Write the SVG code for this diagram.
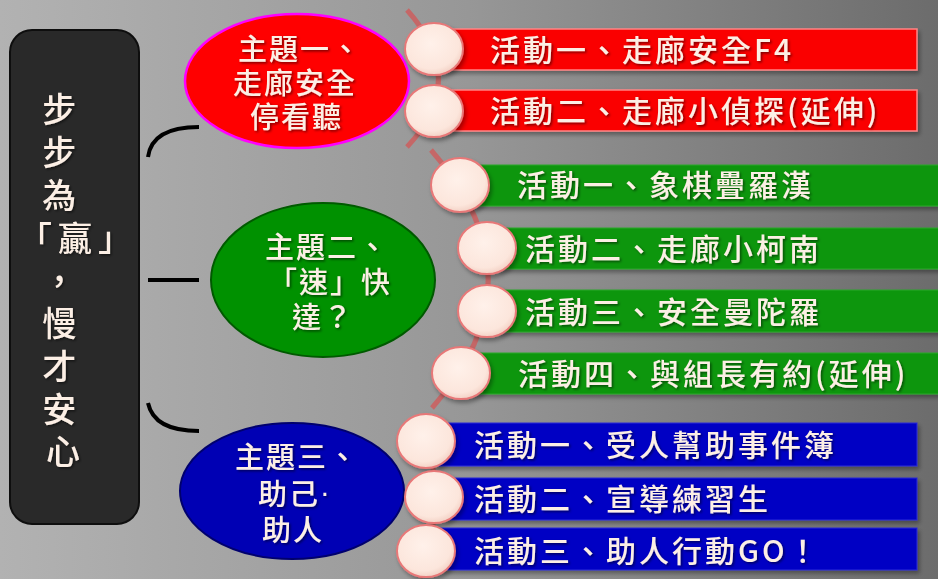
<svg xmlns="http://www.w3.org/2000/svg" width="938" height="579" viewBox="0 0 938 579">
<defs>
<linearGradient id="bg" x1="0" y1="0" x2="1" y2="0">
<stop offset="0" stop-color="#b2b2b2"/>
<stop offset="0.5" stop-color="#979797"/>
<stop offset="1" stop-color="#6c6c6c"/>
</linearGradient>
<radialGradient id="bead" cx="0.45" cy="0.4" r="0.6">
<stop offset="0" stop-color="#fff1ea"/>
<stop offset="0.8" stop-color="#fce6dc"/>
<stop offset="1" stop-color="#f3d2c6"/>
</radialGradient>
<filter id="sh" x="-10%" y="-20%" width="130%" height="150%">
<feDropShadow dx="2" dy="3" stdDeviation="2" flood-color="#000" flood-opacity="0.35"/>
</filter>
<filter id="tsh" x="-5%" y="-20%" width="110%" height="150%">
<feDropShadow dx="1.5" dy="1.5" stdDeviation="0.8" flood-color="#000" flood-opacity="0.5"/>
</filter>
<style>
.t{font-family:"Noto Sans CJK TC","Noto Sans CJK SC",sans-serif;font-weight:500;fill:#fcefe5;filter:url(#tsh);dominant-baseline:central}
.bar{font-size:30px;letter-spacing:3px}
.ell{font-size:29px;letter-spacing:2px}
.side{font-size:34px}
.bead{fill:url(#bead);stroke:#e87878;stroke-width:2;filter:url(#sh)}
.red{fill:#fa0000;stroke:#ff8585;stroke-width:1.5;filter:url(#sh)}
.green{fill:#0a960a;stroke:#2aa82a;stroke-width:1;filter:url(#sh)}
.blue{fill:#0000c4;stroke:#2a2ad8;stroke-width:1;filter:url(#sh)}
.spine{fill:none;stroke:#cf5a5a;stroke-width:5;stroke-opacity:0.8}
.link{fill:none;stroke:#000;stroke-width:4}
</style>
</defs>
<rect width="938" height="579" fill="url(#bg)"/>

<g id="connectors">
<path class="link" d="M148,157 Q152,127 199,127"/>
<path class="link" d="M148,280 L199,280"/>
<path class="link" d="M148,403 Q154,431 199,431"/>
<path class="spine" d="M407,10 Q470,80 407,147"/>
<path class="spine" d="M431,150 Q545,280 432,408"/>
<path class="spine" d="M420,415 Q450,495 420,578"/>
</g>

<g id="title">
<rect x="10" y="30" width="129" height="494" rx="22" fill="#292929" stroke="#0e0e0e" stroke-width="2"/>
<text class="t side" text-anchor="middle">
<tspan x="63" y="107">步</tspan>
<tspan x="63" y="150">步</tspan>
<tspan x="63" y="193">為</tspan>
<tspan x="63" y="279">，</tspan>
<tspan x="63" y="321">慢</tspan>
<tspan x="63" y="364">才</tspan>
<tspan x="63" y="407">安</tspan>
<tspan x="63" y="449">心</tspan>
</text>
<text class="t side" x="18" y="236" letter-spacing="6">「贏」</text>
</g>

<g id="theme1">
<ellipse cx="297" cy="81" rx="112" ry="67" fill="#ff0000" stroke="#ff00ff" stroke-width="2.5"/>
<text class="t ell">
<tspan x="238" y="47">主題一、</tspan>
<tspan x="233" y="81">走廊安全</tspan>
<tspan x="250" y="115">停看聽</tspan>
</text>
</g>

<g id="theme2">
<ellipse cx="323" cy="280" rx="112" ry="77" fill="#009100" stroke="#005a00" stroke-width="2"/>
<text class="t ell">
<tspan x="265" y="245">主題二、</tspan>
<tspan x="268" y="280">「速」快</tspan>
<tspan x="292" y="315">達？</tspan>
</text>
</g>

<g id="theme3">
<ellipse cx="292" cy="491" rx="112" ry="68" fill="#0000b4" stroke="#00006e" stroke-width="2"/>
<text class="t ell">
<tspan x="235" y="455">主題三、</tspan>
<tspan x="258" y="492">助己<tspan font-family="Liberation Sans, sans-serif">·</tspan></tspan>
<tspan x="262" y="528">助人</tspan>
</text>
</g>

<g id="r1">
<rect class="red" x="440" y="29" width="477" height="41"/>
<ellipse class="bead" cx="434" cy="49" rx="29" ry="26"/>
<text class="t bar" x="490" y="48">活動一、走廊安全F4</text>
</g>
<g id="r2">
<rect class="red" x="440" y="90" width="477" height="41"/>
<ellipse class="bead" cx="434" cy="111" rx="29" ry="26"/>
<text class="t bar" x="490" y="109">活動二、走廊小偵探(延伸)</text>
</g>

<g id="g1">
<rect class="green" x="470" y="165" width="470" height="41"/>
<ellipse class="bead" cx="460" cy="185" rx="29" ry="27"/>
<text class="t bar" x="517" y="183">活動一、象棋疊羅漢</text>
</g>
<g id="g2">
<rect class="green" x="497" y="228" width="443" height="41"/>
<ellipse class="bead" cx="487" cy="248" rx="29" ry="26"/>
<text class="t bar" x="525" y="247">活動二、走廊小柯南</text>
</g>
<g id="g3">
<rect class="green" x="497" y="290" width="443" height="42"/>
<ellipse class="bead" cx="487" cy="311" rx="29" ry="26"/>
<text class="t bar" x="525" y="310">活動三、安全曼陀羅</text>
</g>
<g id="g4">
<rect class="green" x="470" y="353" width="470" height="41"/>
<ellipse class="bead" cx="461" cy="373" rx="29" ry="26"/>
<text class="t bar" x="518" y="372">活動四、與組長有約(延伸)</text>
</g>

<g id="b1">
<rect class="blue" x="436" y="423" width="481" height="43"/>
<ellipse class="bead" cx="426" cy="441" rx="29" ry="27"/>
<text class="t bar" x="474" y="443">活動一、受人幫助事件簿</text>
</g>
<g id="b2">
<rect class="blue" x="444" y="478" width="473" height="42"/>
<ellipse class="bead" cx="434" cy="497" rx="29" ry="26"/>
<text class="t bar" x="474" y="497">活動二、宣導練習生</text>
</g>
<g id="b3">
<rect class="blue" x="436" y="528" width="481" height="42"/>
<ellipse class="bead" cx="426" cy="551" rx="29" ry="26"/>
<text class="t bar" x="474" y="549">活動三、助人行動GO！</text>
</g>
</svg>
